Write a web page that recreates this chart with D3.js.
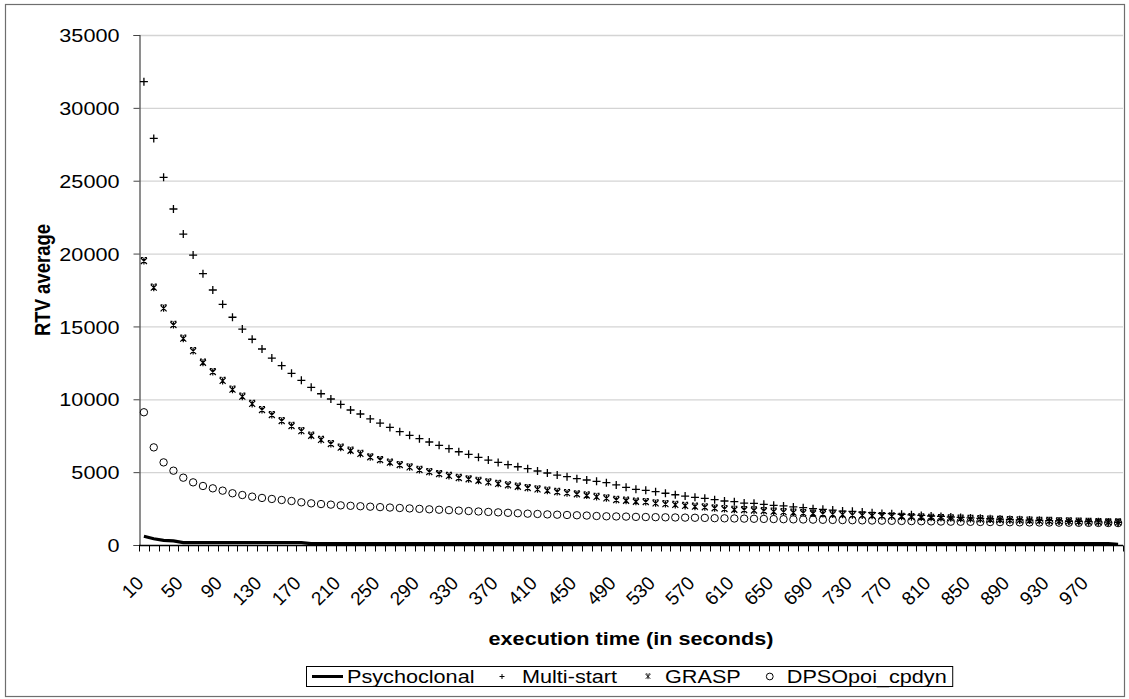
<!DOCTYPE html>
<html>
<head>
<meta charset="utf-8">
<script src="https://cdn.jsdelivr.net/npm/d3@7"></script>
<style>
  html, body { margin: 0; padding: 0; background: #fff; }
  svg { display: block; font-family: Arial, "Liberation Sans", sans-serif; }
</style>
</head>
<body>
<svg id="chart" width="1129" height="699"></svg>
<script>
// execution times (seconds), one category every 10 s
const times = d3.range(10, 1001, 10);
const yTicks = [0, 5000, 10000, 15000, 20000, 25000, 30000, 35000];

const psychoclonal = [
  600, 430, 320, 280, 160, 160, 160, 160, 160, 160,
  160, 160, 160, 160, 160, 160, 160, 90, 90, 90,
  90, 90, 90, 90, 90, 90, 90, 90, 90, 90,
  90, 90, 90, 90, 90, 90, 90, 90, 90, 90,
  90, 90, 90, 90, 90, 90, 90, 90, 90, 90,
  90, 90, 90, 90, 90, 90, 90, 90, 90, 90,
  90, 90, 90, 90, 90, 90, 90, 90, 90, 90,
  90, 90, 90, 90, 90, 90, 90, 90, 90, 90,
  90, 90, 90, 90, 90, 90, 90, 90, 90, 90,
  90, 90, 90, 90, 90, 90, 90, 90, 90, 40
];

const multiStart = [
  31800, 27900, 25230, 23060, 21340, 19900, 18620, 17500, 16520, 15630,
  14820, 14120, 13450, 12830, 12310, 11780, 11300, 10820, 10380, 10020,
  9650, 9265, 8990, 8650, 8370, 8070, 7780, 7530, 7300, 7070,
  6840, 6610, 6400, 6220, 6020, 5830, 5670, 5510, 5370, 5240,
  5080, 4940, 4800, 4690, 4550, 4460, 4370, 4280, 4120, 3960,
  3820, 3750, 3660, 3550, 3450, 3360, 3270, 3200, 3110, 3020,
  2970, 2880, 2860, 2790, 2720, 2680, 2610, 2560, 2490, 2450,
  2400, 2330, 2310, 2260, 2220, 2170, 2150, 2110, 2070, 2030,
  1990, 1960, 1920, 1890, 1860, 1830, 1800, 1780, 1750, 1730,
  1710, 1690, 1670, 1650, 1630, 1620, 1600, 1590, 1570, 1560
];

const grasp = [
  19490, 17660, 16240, 15100, 14160, 13310, 12510, 11870, 11260, 10660,
  10180, 9680, 9265, 8920, 8510, 8170, 7820, 7500, 7210, 6930,
  6680, 6470, 6250, 6020, 5830, 5650, 5490, 5330, 5150, 5010,
  4870, 4740, 4600, 4510, 4410, 4300, 4200, 4100, 4000, 3910,
  3820, 3730, 3640, 3560, 3480, 3400, 3300, 3200, 3090, 3040,
  2970, 2950, 2860, 2810, 2750, 2680, 2630, 2590, 2520, 2470,
  2420, 2400, 2370, 2330, 2290, 2260, 2220, 2190, 2160, 2130,
  2100, 2080, 2050, 2030, 2000, 1980, 1960, 1940, 1910, 1890,
  1870, 1850, 1830, 1810, 1790, 1770, 1750, 1730, 1710, 1700,
  1680, 1660, 1650, 1630, 1620, 1600, 1590, 1580, 1560, 1550
];

const dpso = [
  9110, 6700, 5670, 5100, 4620, 4300, 4050, 3890, 3730, 3550,
  3430, 3320, 3230, 3160, 3090, 3020, 2930, 2860, 2810, 2770,
  2720, 2690, 2660, 2630, 2600, 2570, 2540, 2510, 2480, 2450,
  2420, 2390, 2360, 2330, 2300, 2270, 2240, 2210, 2180, 2150,
  2130, 2100, 2080, 2060, 2040, 2020, 1990, 1970, 1960, 1950,
  1930, 1920, 1910, 1900, 1890, 1880, 1870, 1860, 1840, 1830,
  1820, 1810, 1800, 1790, 1780, 1770, 1760, 1750, 1740, 1730,
  1720, 1710, 1700, 1690, 1680, 1670, 1660, 1650, 1640, 1630,
  1620, 1610, 1600, 1595, 1590, 1580, 1575, 1570, 1560, 1555,
  1550, 1545, 1540, 1535, 1530, 1525, 1520, 1515, 1510, 1505
];

const seriesNames = ["Psychoclonal", "Multi-start", "GRASP", "DPSOpoi_cpdyn"];

const svg = d3.select("#chart");
const plot = { left: 139, right: 1123, top: 35, bottom: 545 };
const FS = 18.5;      // font size
const SX = 1.17;      // horizontal widening of the lettering

// place a text with its anchor at (px, py), widened horizontally, optionally rotated
function wideText(parent, px, py, str, opts = {}) {
  const rot = opts.rotate ? ` rotate(${opts.rotate})` : "";
  return parent.append("text")
    .attr("transform", `translate(${px},${py}) scale(${SX},1)${rot}`)
    .attr("text-anchor", opts.anchor || "start")
    .attr("dy", opts.dy || "0.35em")
    .attr("font-size", FS)
    .attr("font-weight", opts.bold ? "bold" : "normal")
    .attr("fill", "#000")
    .text(str);
}

// outer frame
svg.append("rect")
  .attr("x", 5.5).attr("y", 4.5).attr("width", 1119).attr("height", 692)
  .attr("fill", "#fff").attr("stroke", "#6e6e6e").attr("stroke-width", 1.2);

const x = d3.scaleBand().domain(times).range([plot.left, plot.right]).padding(0);
const y = d3.scaleLinear().domain([0, 35000]).range([plot.bottom, plot.top]);
const cx = t => x(t) + x.bandwidth() / 2;

// gridlines
svg.append("g").selectAll("line").data(yTicks.filter(d => d > 0)).join("line")
  .attr("x1", plot.left).attr("x2", plot.right)
  .attr("y1", d => y(d) + 0.5).attr("y2", d => y(d) + 0.5)
  .attr("stroke", "#d4d4d4").attr("stroke-width", 1.3);

// y axis (tick labels widened like the other lettering)
const yAxis = svg.append("g")
  .attr("transform", `translate(${plot.left + 0.5},0)`)
  .call(d3.axisLeft(y).tickValues(yTicks).tickSize(6).tickFormat(() => ""));
yAxis.select(".domain").attr("stroke", "#444").attr("stroke-width", 1.2);
yAxis.selectAll(".tick line").attr("stroke", "#444");
yAxis.selectAll(".tick").each(function (d) {
  wideText(d3.select(this), -20, 0, d3.format("d")(d), { anchor: "end", dy: "0.36em" });
});

// x axis with a tick at every category boundary
const xAxisG = svg.append("g").attr("transform", `translate(0,${plot.bottom + 0.5})`);
xAxisG.append("line")
  .attr("x1", plot.left).attr("x2", plot.right)
  .attr("stroke", "#000").attr("stroke-width", 1.5);
const boundaries = times.map(t => x(t)).concat([plot.right]);
xAxisG.selectAll("line.tk").data(boundaries).join("line").attr("class", "tk")
  .attr("x1", d => Math.round(d) + 0.5).attr("x2", d => Math.round(d) + 0.5)
  .attr("y1", 0).attr("y2", 6).attr("stroke", "#000").attr("stroke-width", 1);

const labelled = times.filter((t, i) => i % 4 === 0);
xAxisG.selectAll("text").data(labelled).join("text")
  .attr("transform", d => `translate(${cx(d) - 4},${34}) rotate(-45)`)
  .attr("text-anchor", "end")
  .attr("dy", "0.35em")
  .attr("font-size", 19)
  .text(d => d);

// axis titles
wideText(svg, 631, 639, "execution time (in seconds)", { anchor: "middle", bold: true });
wideText(svg, 42, 280, "RTV average", { anchor: "middle", bold: true, rotate: -90 });

// marker shapes
const plusPath = "M-4,0H4M0,-4V4";
const starPath = "M-3,-3L3,3M3,-3L-3,3M0,-3.5V3.5M-3,-3.5H-1M1,-3.5H3";

// Psychoclonal line
svg.append("path")
  .datum(psychoclonal)
  .attr("fill", "none").attr("stroke", "#000").attr("stroke-width", 3.2)
  .attr("d", d3.line().x((d, i) => cx(times[i])).y(d => y(d)));

// Multi-start markers
svg.append("g").selectAll("path").data(multiStart).join("path")
  .attr("transform", (d, i) => `translate(${cx(times[i])},${y(d)})`)
  .attr("d", plusPath).attr("stroke", "#000").attr("stroke-width", 1.3).attr("fill", "none");

// GRASP markers
svg.append("g").selectAll("path").data(grasp).join("path")
  .attr("transform", (d, i) => `translate(${cx(times[i])},${y(d)})`)
  .attr("d", starPath).attr("stroke", "#000").attr("stroke-width", 1.2).attr("fill", "none");

// DPSOpoi_cpdyn markers
svg.append("g").selectAll("circle").data(dpso).join("circle")
  .attr("cx", (d, i) => cx(times[i])).attr("cy", d => y(d)).attr("r", 3.7)
  .attr("stroke", "#000").attr("stroke-width", 1).attr("fill", "none");

// legend
const lg = svg.append("g");
const box = lg.append("rect")
  .attr("x", 306.5).attr("y", 666.5).attr("height", 20)
  .attr("fill", "#fff").attr("stroke", "#000").attr("stroke-width", 1);
const ly = 676.5;
const items = [
  { name: seriesNames[0], kind: "line", sx: 312, tx: 347 },
  { name: seriesNames[1], kind: "plus", sx: 502, tx: 522 },
  { name: seriesNames[2], kind: "star", sx: 648, tx: 665 }
];
function drawItem(it) {
  if (it.kind === "line") {
    lg.append("line").attr("x1", it.sx).attr("x2", it.sx + 31).attr("y1", ly).attr("y2", ly)
      .attr("stroke", "#000").attr("stroke-width", 3);
  } else if (it.kind === "plus") {
    lg.append("path").attr("transform", `translate(${it.sx},${ly})`).attr("d", "M-2.5,0H2.5M0,-2.5V2.5")
      .attr("stroke", "#000").attr("stroke-width", 1);
  } else if (it.kind === "star") {
    lg.append("path").attr("transform", `translate(${it.sx},${ly}) scale(0.75)`).attr("d", starPath)
      .attr("stroke", "#000").attr("stroke-width", 1.2).attr("fill", "none");
  } else {
    lg.append("circle").attr("cx", it.sx).attr("cy", ly).attr("r", 3.4)
      .attr("stroke", "#000").attr("stroke-width", 1).attr("fill", "none");
  }
  const t = wideText(lg, it.tx, ly, it.name, { dy: "0.36em" });
  return it.tx + t.node().getComputedTextLength() * SX;
}
let nextX = 0;
items.forEach(it => { nextX = drawItem(it); });
const last = { name: seriesNames[3], kind: "circle", sx: nextX + 29, tx: nextX + 46 };
const endX = drawItem(last);
box.attr("width", endX + 6 - 306.5);
</script>
</body>
</html>
